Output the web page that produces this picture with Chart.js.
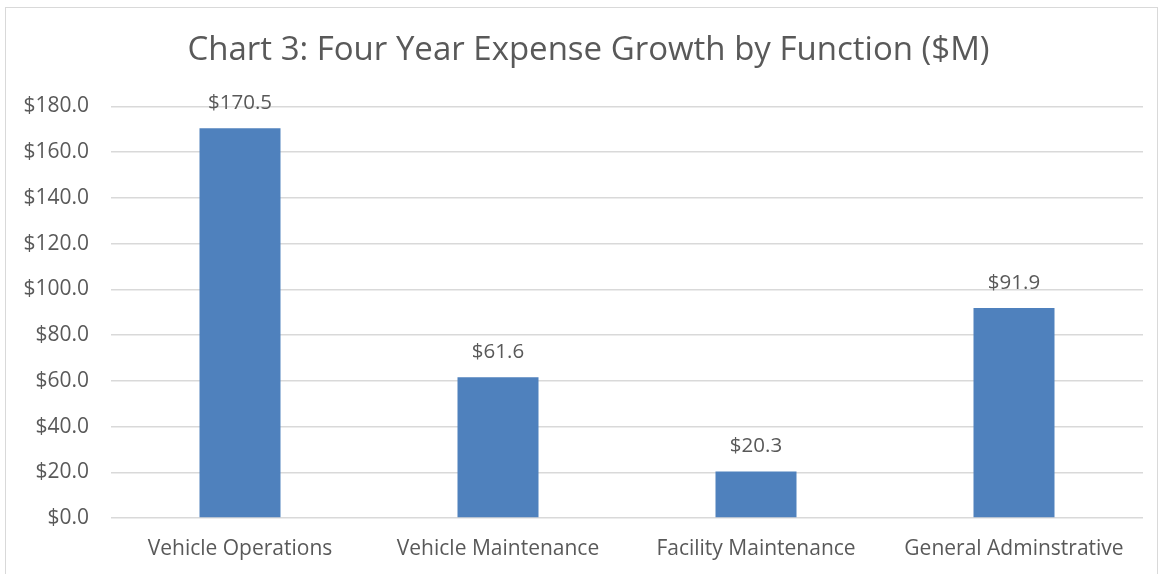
<!DOCTYPE html>
<html><head><meta charset="utf-8">
<script src="https://cdn.jsdelivr.net/npm/chart.js@4.4.1/dist/chart.umd.min.js"></script>
<style>html,body{margin:0;padding:0;background:#fff;overflow:hidden}#wrap{position:absolute;left:0;top:0;width:1159px;height:574px}</style>
</head><body><div id="wrap"><canvas id="c" width="1159" height="574"></canvas></div>
<script>
const categories = ["Vehicle Operations", "Vehicle Maintenance", "Facility Maintenance", "General Adminstrative"];
const values = [170.5, 61.6, 20.3, 91.9];
const titleText = "Chart 3: Four Year Expense Growth by Function ($M)";
const FONT = "'Open Sans', sans-serif";
const TXT = "#595959";

const framePlugin = {
  id: 'frame',
  beforeDraw(chart) {
    const ctx = chart.ctx;
    ctx.save();
    ctx.strokeStyle = '#d9d9d9';
    ctx.lineWidth = 1;
    ctx.strokeRect(5.5, 7.5, 1152, 600);
    ctx.font = "33px " + FONT;
    ctx.fillStyle = TXT;
    ctx.textAlign = 'center';
    ctx.textBaseline = 'middle';
    ctx.fillText(titleText, 588.5, 51);
    ctx.restore();
  }
};
const labelPlugin = {
  id: 'dlabels',
  afterDatasetsDraw(chart) {
    const ctx = chart.ctx;
    const meta = chart.getDatasetMeta(0);
    ctx.save();
    ctx.font = "20.5px " + FONT;
    ctx.fillStyle = TXT;
    ctx.textAlign = 'center';
    ctx.textBaseline = 'middle';
    meta.data.forEach((bar, i) => {
      ctx.fillText('$' + values[i].toFixed(1), bar.x, bar.y - 25);
    });
    ctx.restore();
  }
};

new Chart(document.getElementById('c'), {
  type: 'bar',
  data: { labels: categories, datasets: [{ data: values, backgroundColor: '#4F81BD', categoryPercentage: 1, barPercentage: 0.314 }] },
  options: {
    responsive: false, animation: false,
    layout: { padding: { left: 0, right: 16, top: 106.5, bottom: 14 } },
    plugins: {
      legend: { display: false }, tooltip: { enabled: false }, title: { display: false }
    },
    scales: {
      y: {
        min: 0, max: 180,
        afterFit(s) { s.width = 111; },
        ticks: { stepSize: 20, color: TXT, padding: 22, font: { family: FONT, size: 21 }, callback: v => '$' + Number(v).toFixed(1) },
        grid: { color: '#d9d9d9', lineWidth: 1.5, drawTicks: false },
        border: { display: false }
      },
      x: {
        afterFit(s) { s.height = 42; },
        ticks: { color: TXT, padding: 18, font: { family: FONT, size: 21 } },
        grid: { display: false, drawTicks: false },
        border: { display: false }
      }
    }
  },
  plugins: [framePlugin, labelPlugin]
});
</script></body></html>
